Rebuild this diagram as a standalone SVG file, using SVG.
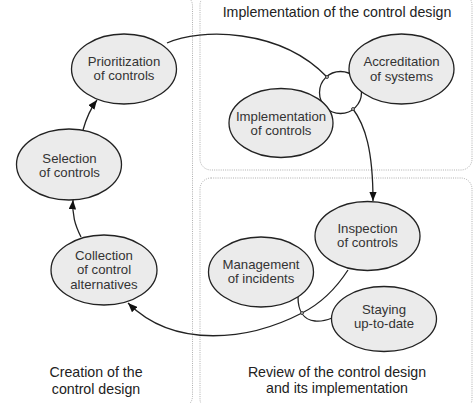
<svg xmlns="http://www.w3.org/2000/svg" width="474" height="403" viewBox="0 0 474 403">
<style>
.panel{fill:none;stroke:#9a9a9a;stroke-width:0.8;stroke-dasharray:1 1.2}
.node{fill:#ebebeb;stroke:#222;stroke-width:1.3}
.hub{fill:#fff;stroke:#222;stroke-width:1.3}
.lbl{font-family:"Liberation Sans",Arial,sans-serif;font-size:13.2px;fill:#333;text-anchor:middle}
.title{font-family:"Liberation Sans",Arial,sans-serif;font-size:14.2px;fill:#222;text-anchor:middle}
.edge{fill:none;stroke:#222;stroke-width:1.3}
.dot{fill:#bbb;stroke:#222;stroke-width:0.8}
</style>
<defs>
<marker id="arr" viewBox="0 0 10 8" refX="10" refY="4" markerWidth="9.5" markerHeight="7.5" markerUnits="userSpaceOnUse" orient="auto">
<path d="M0,0 L10,4 L0,8 z" fill="#111"/>
</marker>
</defs>
<rect fill="#fff" x="0" y="0" width="474" height="403"/>
<g id="panels">
<rect class="panel" x="-8" y="-6" width="200.5" height="414" rx="12"/>
<rect class="panel" x="200" y="-6" width="272" height="176" rx="11"/>
<rect class="panel" x="200" y="178" width="272" height="232" rx="11"/>
<text class="title" x="337" y="16.7">Implementation of the control design</text>
<text class="title" x="96" y="377">Creation of the</text>
<text class="title" x="96" y="394">control design</text>
<text class="title" x="337" y="377">Review of the control design</text>
<text class="title" x="337" y="393">and its implementation</text>
</g>
<g id="connectors">
<path class="edge" d="M81 237 C75 225,72 215,73 200" marker-end="url(#arr)"/>
<path class="edge" d="M83 130 Q88 112 97 100" marker-end="url(#arr)"/>
<path class="edge" d="M167 43 C200 28,280 28,327 77"/>
<path class="edge" d="M353 109 C365 125,373 150,373 201" marker-end="url(#arr)"/>
<path class="edge" d="M348 270 C335 290,318 305,302 313 C250 340,175 350,128 303" marker-end="url(#arr)"/>
<path class="edge" d="M298 297 C298 310,303 320,315 321 C322 322,327 320,332 318"/>
</g>
<g id="hub"><circle class="hub" cx="340.5" cy="92.5" r="21"/></g>
<g id="prioritization">
<ellipse class="node" cx="124" cy="69" rx="52.5" ry="35"/>
<text class="lbl" x="124" y="66">Prioritization</text>
<text class="lbl" x="124" y="80">of controls</text>
</g>
<g id="selection">
<ellipse class="node" cx="69" cy="164.5" rx="52.5" ry="35.5"/>
<text class="lbl" x="69.5" y="162.5">Selection</text>
<text class="lbl" x="69.5" y="177">of controls</text>
</g>
<g id="collection">
<ellipse class="node" cx="104" cy="270" rx="53" ry="35"/>
<text class="lbl" x="104" y="259.5">Collection</text>
<text class="lbl" x="104" y="274">of control</text>
<text class="lbl" x="104" y="288.5">alternatives</text>
</g>
<g id="implementation">
<ellipse class="node" cx="281" cy="123" rx="52" ry="34.5"/>
<text class="lbl" x="281" y="121">Implementation</text>
<text class="lbl" x="281" y="135">of controls</text>
</g>
<g id="accreditation">
<ellipse class="node" cx="401.5" cy="69" rx="52.5" ry="35"/>
<text class="lbl" x="401.5" y="66">Accreditation</text>
<text class="lbl" x="401.5" y="80.5">of systems</text>
</g>
<g id="inspection">
<ellipse class="node" cx="367.5" cy="236" rx="52.5" ry="34.5"/>
<text class="lbl" x="367.5" y="233">Inspection</text>
<text class="lbl" x="367.5" y="247">of controls</text>
</g>
<g id="management">
<ellipse class="node" cx="261" cy="272" rx="52.5" ry="35"/>
<text class="lbl" x="261" y="268.5">Management</text>
<text class="lbl" x="261" y="283">of incidents</text>
</g>
<g id="staying">
<ellipse class="node" cx="384" cy="319" rx="52.5" ry="32.5"/>
<text class="lbl" x="384" y="314">Staying</text>
<text class="lbl" x="384" y="328">up-to-date</text>
</g>
<g id="junctions">
<circle class="dot" cx="327" cy="77" r="1.5"/>
<circle class="dot" cx="353" cy="109" r="1.5"/>
<circle class="dot" cx="302" cy="313" r="1.5"/>
</g>
</svg>
